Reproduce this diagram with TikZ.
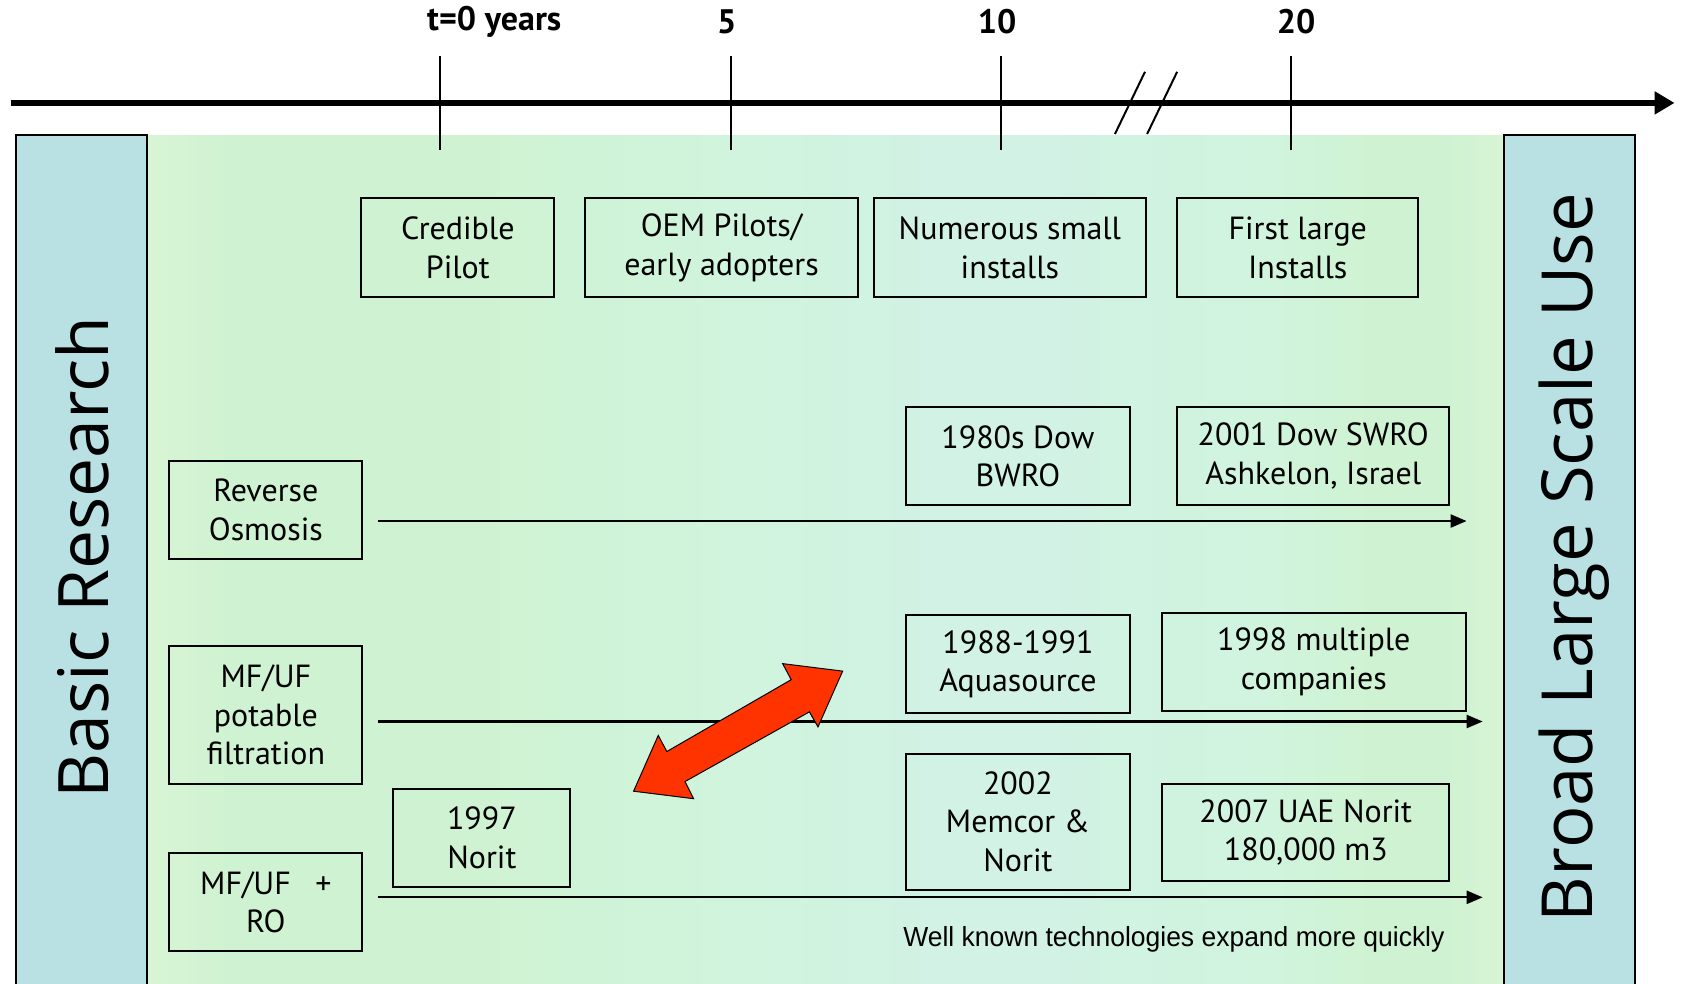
\documentclass[tikz,border=0pt]{standalone}
\usepackage{fontspec}
\usepackage{graphicx}
\setmainfont{PT Sans}
\newfontfamily\barfont{Open Sans}
\newfontfamily\notefont{Liberation Sans}
\usetikzlibrary{arrows.meta}
\definecolor{barblue}{RGB}{185,224,227}
\definecolor{gY}{RGB}{216,244,212}
\definecolor{gG}{RGB}{207,243,210}
\definecolor{gM}{RGB}{208,244,222}
\definecolor{gC}{RGB}{209,242,228}
\definecolor{redarrow}{RGB}{255,51,0}
\pgfdeclarehorizontalshading{panelshade}{100bp}{color(0bp)=(gY); color(25bp)=(gY); color(28bp)=(gG); color(37.5bp)=(gG); color(47.5bp)=(gM); color(54bp)=(gC); color(58bp)=(gC); color(66bp)=(gM); color(70bp)=(gG); color(73bp)=(gG); color(75bp)=(gY); color(100bp)=(gY)}
\newcommand{\tbox}[6]{\node[tbox, minimum width={#4*1.072pt}, minimum height={#5*1.072pt}] (#1) at (#2,#3) {#6};}
\tikzset{
  tbox/.style={draw=black, line width=2pt, inner sep=0pt, align=center,
    font=\fontsize{32}{38.6}\selectfont},
  flow/.style={line width=2.3pt, -{Triangle[length=16pt,width=13pt]}},
  tick/.style={line width=2pt},
  ticklab/.style={font=\fontsize{34}{34}\selectfont\bfseries, inner sep=0pt},
  barside/.style={draw=black, line width=1.5pt}
}
\begin{document}
\begin{tikzpicture}[x=1.072pt,y=-1.072pt]
\useasboundingbox (0,0) rectangle (1568,917);
% background panel
\fill[shading=panelshade] (137,126) rectangle (1403,925);
% side bars
\fill[barblue] (15,126) rectangle (137,925);
\draw[barside] (15,925) -- (15,126) -- (137,126) -- (137,925);
\fill[barblue] (1403,126) rectangle (1525,925);
\draw[barside] (1403,925) -- (1403,126) -- (1525,126) -- (1525,925);
\node[rotate=90, inner sep=0pt] (basic) at (77,520) {\resizebox{482pt}{!}{\barfont Basic Research}};
\node[rotate=90, inner sep=0pt] (broad) at (1468,520) {\resizebox{729pt}{!}{\barfont Broad Large Scale Use}};
% time axis
\coordinate (axS) at (10,96);
\coordinate (axE) at (1562,96);
\draw[line width=6pt, -{Triangle[length=20pt,width=22pt]}] (axS) -- (axE);
\foreach \n/\x in {a/410,b/682,c/934,d/1204}{
  \coordinate (tk\n top) at (\x,52);
  \coordinate (tk\n bot) at (\x,140);
  \draw[tick] (tk\n top) -- (tk\n bot);
}
\coordinate (s1a) at (1040,125); \coordinate (s1b) at (1068,67);
\coordinate (s2a) at (1070,125); \coordinate (s2b) at (1098,67);
\draw[tick] (s1a) -- (s1b);
\draw[tick] (s2a) -- (s2b);
\node[ticklab] (l0) at (461,20) {t=0 years};
\node[ticklab] (l5) at (678,20) {5};
\node[ticklab] (l10) at (930,20) {10};
\node[ticklab] (l20) at (1209,20) {20};
% boxes
\tbox{cred}{427}{231}{180}{92}{Credible\\Pilot}
\tbox{oem}{673}{231}{254}{92}{OEM Pilots/\\early adopters}
\tbox{nums}{942}{231}{254}{92}{Numerous small\\installs}
\tbox{first}{1210.5}{231}{225}{92}{First large\\Installs}
\tbox{dowa}{949.5}{425.5}{209}{91}{1980s Dow\\BWRO}
\tbox{dowb}{1225}{425.5}{254}{91}{2001 Dow SWRO\\Ashkelon, Israel}
\tbox{ro}{248}{475.5}{180}{91}{Reverse\\Osmosis}
\tbox{mfuf}{248}{667}{180}{128}{MF/UF\\potable\\filtration}
\tbox{aqua}{949.5}{619.5}{209}{91}{1988-1991\\Aquasource}
\tbox{multi}{1225.5}{617.5}{283}{91}{1998 multiple\\companies}
\tbox{memcor}{949.5}{766.5}{209}{127}{2002\\Memcor \&\\Norit}
\tbox{uae}{1218}{776.5}{268}{91}{2007 UAE Norit\\180,000 m3}
\tbox{norit}{449.5}{781.5}{165}{91}{1997\\Norit}
\tbox{mfro}{248}{841.5}{180}{91}{MF/UF\enspace\ +\\RO}
% flow arrows
\coordinate (roS) at (353,486); \coordinate (roE) at (1368,486);
\coordinate (mfS) at (353,673); \coordinate (mfE) at (1383,673);
\coordinate (mrS) at (353,837); \coordinate (mrE) at (1383,837);
\draw[flow] (roS) -- (roE);
\draw[flow] (mfS) -- (mfE);
\draw[flow] (mrS) -- (mrE);
% red double arrow
\filldraw[fill=redarrow, draw=black, line width=1pt, line join=miter]
  (591,738) -- (614,686) -- (622,701) -- (738,634) -- (730,619) -- (786,626)
  -- (763,678) -- (755,664) -- (639,729) -- (647,745) -- cycle;
% note
\node[inner sep=0pt] (note) at (1095,876) {\resizebox{541pt}{20pt}{\notefont\fontsize{25}{25}\selectfont Well known technologies expand more quickly}};
\end{tikzpicture}
\end{document}
